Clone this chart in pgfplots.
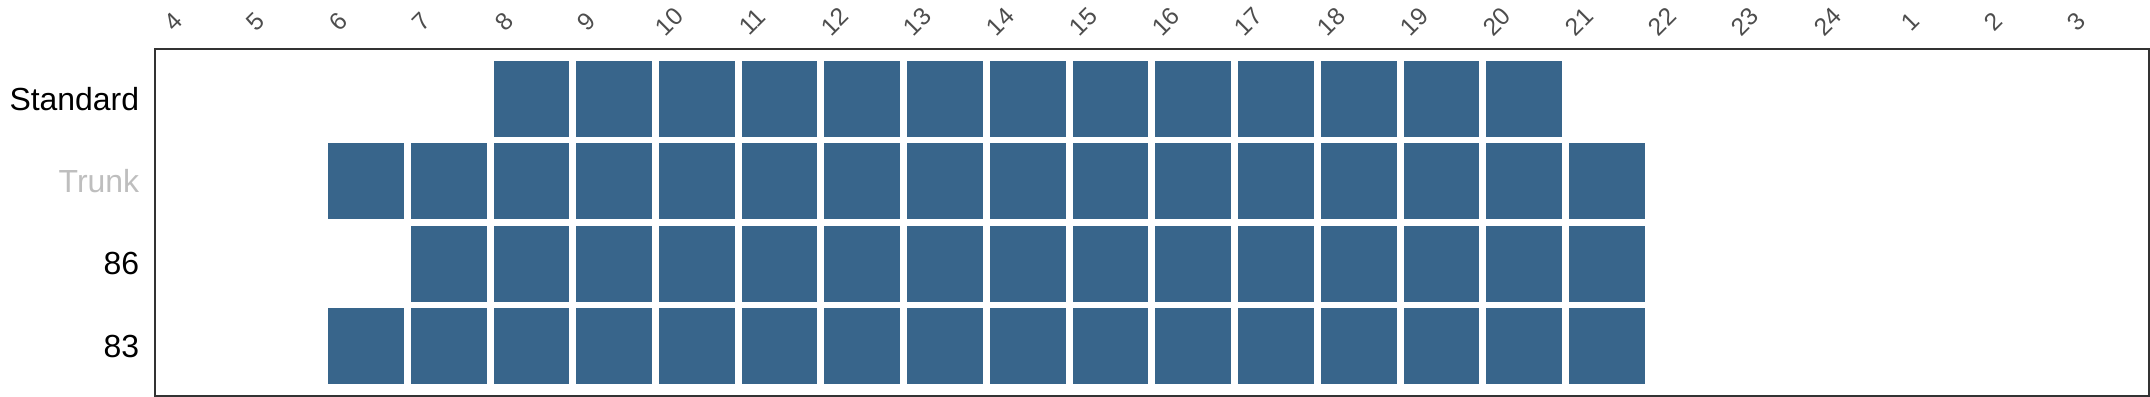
\documentclass[border=0pt]{standalone}
\usepackage{fontspec}
\setmainfont{Liberation Sans}
\usepackage{pgfplots}
\pgfplotsset{compat=1.18}
\definecolor{cell}{RGB}{56,101,139}
\definecolor{frame}{RGB}{51,51,51}
\definecolor{tick}{RGB}{77,77,77}
\definecolor{trunk}{RGB}{190,190,190}
\begin{document}
\begin{tikzpicture}
\begin{axis}[
  scale only axis,
  width=699pt, height=121.5pt,
  xmin=-0.55, xmax=23.55, ymin=-0.6, ymax=3.6,
  axis line style={frame, line width=0.8pt},
  xtick={0,...,23},
  xticklabels={4,5,6,7,8,9,10,11,12,13,14,15,16,17,18,19,20,21,22,23,24,1,2,3},
  xticklabel pos=upper,
  ytick={0,1,2,3},
  yticklabels={83,86,{\textcolor{trunk}{Trunk}},Standard},
  major tick length=0pt,
  /pgf/number format/assume math mode=true,
  xticklabel style={font=\fontsize{8.6}{10}\selectfont, text=tick, rotate=45, anchor=center, inner sep=1.5pt, yshift=13.6pt},
  yticklabel style={font=\fontsize{11.2}{13}\selectfont, text=black, xshift=-2pt},
  clip=false,
]
\addplot[only marks, color=cell, mark=square*, mark size=13.1pt, mark options={fill=cell, draw=cell, line width=0pt}] coordinates {
 (4,3) (5,3) (6,3) (7,3) (8,3) (9,3) (10,3) (11,3) (12,3) (13,3) (14,3) (15,3) (16,3)
 (2,2) (3,2) (4,2) (5,2) (6,2) (7,2) (8,2) (9,2) (10,2) (11,2) (12,2) (13,2) (14,2) (15,2) (16,2) (17,2)
 (3,1) (4,1) (5,1) (6,1) (7,1) (8,1) (9,1) (10,1) (11,1) (12,1) (13,1) (14,1) (15,1) (16,1) (17,1)
 (2,0) (3,0) (4,0) (5,0) (6,0) (7,0) (8,0) (9,0) (10,0) (11,0) (12,0) (13,0) (14,0) (15,0) (16,0) (17,0)
};
\end{axis}
\end{tikzpicture}
\end{document}
